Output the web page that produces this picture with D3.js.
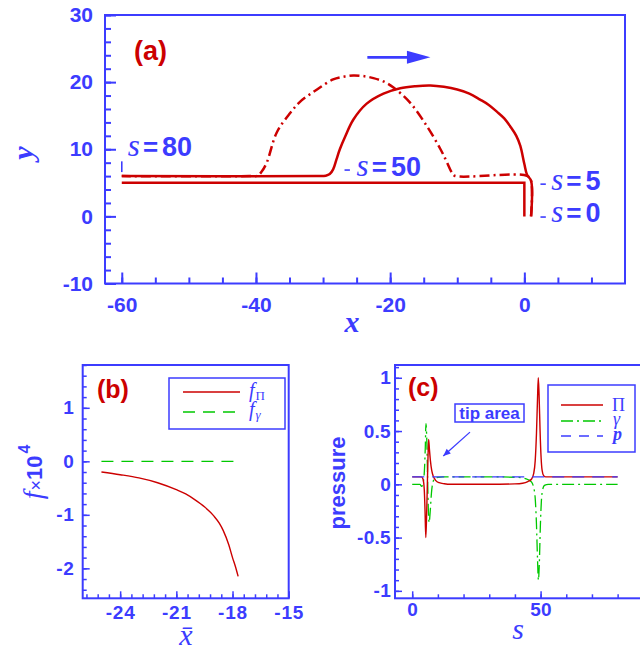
<!DOCTYPE html>
<html><head><meta charset="utf-8">
<script src="https://cdn.jsdelivr.net/npm/d3@7"></script>
<style>
body{margin:0;background:#fff;}
svg{display:block;}
</style></head><body>
<svg id="fig" width="640" height="653"></svg>
<script>
// ---------- Panel (a): film profiles y(x) ----------
const flatX = [0, 0, -60];
const flatY = [0, 5, 5];
const bumpX = [1, 1, 0.4, 0, -0.6, -1.2, -2.1, -3.0, -4.1, -5.3, -6.6, -8.2, -10, -12, -14, -16.2, -18.5, -21, -23.5, -25.5, -26.7, -27.5, -28, -28.5, -29.0, -29.6, -31, -60];
const bumpY = [0, 5.3, 6.2, 7.8, 10.5, 12.0, 13.4, 14.6, 15.6, 16.6, 17.4, 18.3, 18.9, 19.3, 19.5, 19.4, 19.1, 18.3, 16.8, 14.4, 11.9, 10, 8.5, 7.0, 6.3, 6.05, 6, 6];
const earlyX = [1, 1, 0.4, -10.4, -10.8, -11.6, -12.5, -14.5, -17, -19.5, -21, -22.5, -24, -25.5, -27, -28.5, -30.9, -33.4, -34.9, -36.9, -38.4, -39.2, -39.8, -41, -60];
const earlyY = [0, 5.3, 6.05, 6.05, 6.5, 8.2, 10, 13.4, 16.9, 19.2, 20.1, 20.6, 20.9, 21.0, 20.8, 20.4, 18.9, 17.1, 15.4, 12.5, 8.0, 6.6, 6.05, 6, 6];
const aXMajor = [-60, -40, -20, 0];
const aXMinor = [-60, -55, -50, -45, -40, -35, -30, -25, -20, -15, -10, -5, 0, 5, 10];
const aYMajor = [-10, 0, 10, 20, 30];
const aYMinor = [-10, -8, -6, -4, -2, 0, 2, 4, 6, 8, 10, 12, 14, 16, 18, 20, 22, 24, 26, 28, 30];
const sMarks = ["80", "50", "5", "0"];

// ---------- Panel (b): f x 10^4 against x-bar ----------
const fBarX = [-25, -24, -23, -22, -21, -20.5, -20, -19.5, -19, -18.7, -18.5, -18.2, -18.0, -17.85, -17.7];
const fPi = [-0.20, -0.25, -0.31, -0.40, -0.53, -0.61, -0.72, -0.85, -1.02, -1.16, -1.29, -1.56, -1.80, -1.96, -2.15];
const fGammaX = [-25, -17.7];
const fGamma = [0, 0];
const bXMajor = [-24, -21, -18, -15];
const bXMinor = [-25.8, -25.2, -24.6, -24, -23.4, -22.8, -22.2, -21.6, -21, -20.4, -19.8, -19.2, -18.6, -18, -17.4, -16.8, -16.2, -15.6, -15];
const bYMajor = [-2, -1, 0, 1];
const bYMinor = [-2.4, -2.2, -2, -1.8, -1.6, -1.4, -1.2, -1, -0.8, -0.6, -0.4, -0.2, 0, 0.2, 0.4, 0.6, 0.8, 1, 1.2, 1.4, 1.6, 1.8];

// ---------- Panel (c): pressure components along s ----------
const sPi = [0, 3.6, 4.2, 4.7, 5.0, 5.3, 5.6, 5.9, 6.2, 6.4, 6.7, 7.1, 7.6, 8.3, 9.2, 10.5, 12.5, 15, 20, 30, 40, 43, 45, 46.5, 47.3, 47.9, 48.4, 48.8, 49.1, 49.4, 49.8, 50.2, 50.6, 51.2, 52, 60, 70, 80];
const piVal = [0.07, 0.07, 0.05, -0.05, -0.25, -0.50, -0.30, 0.0, 0.30, 0.42, 0.33, 0.22, 0.13, 0.07, 0.035, 0.015, 0.005, 0.0, 0.0, 0.0, 0.004, 0.01, 0.025, 0.05, 0.1, 0.22, 0.48, 0.8, 1.0, 0.85, 0.5, 0.25, 0.13, 0.08, 0.07, 0.07, 0.07, 0.07];
const sGamma = [0, 3.0, 3.7, 4.3, 4.8, 5.1, 5.35, 5.7, 6.0, 6.3, 6.6, 7.0, 7.5, 8.2, 9.0, 10, 12, 20, 30, 40, 43, 45, 46.5, 47.3, 47.9, 48.4, 48.8, 49.15, 49.5, 49.9, 50.3, 50.8, 51.5, 53, 60, 70, 80];
const gammaVal = [0.0, 0.0, -0.02, 0.02, 0.15, 0.35, 0.57, 0.40, 0.05, -0.25, -0.36, -0.26, -0.08, 0.03, 0.06, 0.065, 0.07, 0.07, 0.07, 0.066, 0.06, 0.045, 0.02, -0.03, -0.13, -0.38, -0.7, -0.9, -0.75, -0.4, -0.16, -0.05, -0.01, 0.0, 0.0, 0.0, 0.0];
const sP = [0, 80];
const pVal = [0.07, 0.07];
const cXMajor = [0, 50];
const cXMinor = [0, 10, 20, 30, 40, 50, 60, 70, 80, 90];
const cYMajor = [-1, -0.5, 0, 0.5, 1];
const cYMinor = [-1, -0.9, -0.8, -0.7, -0.6, -0.5, -0.4, -0.3, -0.2, -0.1, 0, 0.1, 0.2, 0.3, 0.4, 0.5, 0.6, 0.7, 0.8, 0.9, 1, 1.1];

const BLUE = "#3c3cff", RED = "#cc0000", GREEN = "#00c800";
const SANS = "'Liberation Sans', Arial, Helvetica, sans-serif";
const SERIF = "'Liberation Serif', 'Times New Roman', serif";

const svg = d3.select("#fig");

// scales
const ax = d3.scaleLinear().domain([-62.5, 15]).range([105, 625]);
const ay = d3.scaleLinear().domain([-10, 30]).range([283.5, 15]);
const bx = d3.scaleLinear().domain([-26, -15]).range([82.7, 288.7]);
const by = d3.scaleLinear().domain([-2.56, 1.8]).range([598.3, 365]);
const cx = d3.scaleLinear().domain([-6.7, 90]).range([395, 643.3]);
const cy = d3.scaleLinear().domain([-1.07, 1.12]).range([598.3, 365]);

function fmt(d) { return String(d); }

// frame with inward ticks on the bottom and left sides
function frame(x, y, o) {
  const g = svg.append("g");
  const [x0, x1] = x.range(), [y0, y1] = y.range();
  const bottom = y0, top = y1;
  const addAxis = (axis, transform) => {
    const a = g.append("g").attr("transform", transform).call(axis);
    a.select(".domain").remove();
    a.selectAll(".tick line").attr("stroke", BLUE).attr("stroke-width", o.tickW);
    a.selectAll(".tick text").attr("fill", BLUE).attr("font-family", SANS)
      .attr("font-weight", "bold").attr("font-size", o.font).attr("letter-spacing", o.ls || 0);
    return a;
  };
  addAxis(d3.axisBottom(x).tickValues(o.xMinor).tickSize(-o.minor).tickFormat(""), `translate(0,${bottom})`);
  addAxis(d3.axisBottom(x).tickValues(o.xMajor).tickSize(-o.major).tickPadding(o.xPad).tickFormat(fmt), `translate(0,${bottom})`);
  addAxis(d3.axisLeft(y).tickValues(o.yMinor).tickSize(-o.minor).tickFormat(""), `translate(${x0},0)`);
  addAxis(d3.axisLeft(y).tickValues(o.yMajor).tickSize(-o.major).tickPadding(o.yPad).tickFormat(fmt), `translate(${x0},0)`);
  g.append("rect").attr("x", x0).attr("y", top).attr("width", x1 - x0).attr("height", bottom - top)
    .attr("fill", "none").attr("stroke", BLUE).attr("stroke-width", 2);
  return g;
}

function path(xs, ys, sx, sy, curve) {
  return d3.line().x((d, i) => sx(xs[i])).y((d, i) => sy(ys[i])).curve(curve)(xs);
}

// ================= Panel (a) =================
frame(ax, ay, { xMajor: aXMajor, xMinor: aXMinor, yMajor: aYMajor, yMinor: aYMinor,
  major: 11, minor: 6, tickW: 2, font: 21, xPad: 14, yPad: 12 });

const smooth = d3.curveCatmullRom.alpha(0.5);
svg.append("path").attr("d", path(flatX, flatY, ax, ay, d3.curveLinear))
  .attr("fill", "none").attr("stroke", RED).attr("stroke-width", 2.5);
svg.append("path").attr("d", path(bumpX, bumpY, ax, ay, smooth))
  .attr("fill", "none").attr("stroke", RED).attr("stroke-width", 2.5);
svg.append("path").attr("d", path(earlyX, earlyY, ax, ay, smooth))
  .attr("fill", "none").attr("stroke", RED).attr("stroke-width", 2.5)
  .attr("stroke-dasharray", "10,4,2,4");

// travel direction arrow
svg.append("line").attr("x1", ax(-23.4)).attr("x2", ax(-17)).attr("y1", ay(23.7)).attr("y2", ay(23.7))
  .attr("stroke", BLUE).attr("stroke-width", 2.8);
svg.append("path")
  .attr("d", `M${ax(-14)},${ay(23.7)} L${ax(-17.5)},${ay(23.7) - 6.5} L${ax(-17.5)},${ay(23.7) + 6.5} Z`)
  .attr("fill", BLUE);

// arc-length markers
function sLabel(x, y, v) {
  const t = svg.append("text").attr("x", ax(x)).attr("y", ay(y)).attr("fill", BLUE);
  t.append("tspan").attr("font-family", SERIF).attr("font-style", "italic").attr("font-size", 31).text("s");
  t.append("tspan").attr("font-family", SANS).attr("font-weight", "bold").attr("font-size", 26).attr("dx", 3).text("=");
  t.append("tspan").attr("font-family", SANS).attr("font-weight", "bold").attr("font-size", 27).attr("dx", 4).text(v);
}
sLabel(-59.1, 9.0, sMarks[0]);
sLabel(-25.0, 6.0, sMarks[1]);
sLabel(4.0, 3.9, sMarks[2]);
sLabel(4.0, -0.85, sMarks[3]);
const tickMark = (x1, y1, x2, y2) => svg.append("line")
  .attr("x1", ax(x1)).attr("y1", ay(y1)).attr("x2", ax(x2)).attr("y2", ay(y2))
  .attr("stroke", BLUE).attr("stroke-width", 1.6);
tickMark(-60, 6.6, -60, 8.2);
tickMark(-26.8, 6.9, -26.0, 6.9);
tickMark(2.4, 4.8, 3.2, 4.8);
tickMark(2.4, -0.1, 3.2, -0.1);

svg.append("text").attr("x", 134).attr("y", 60).attr("fill", RED).attr("font-family", SANS)
  .attr("font-weight", "bold").attr("font-size", 27).text("(a)");
svg.append("text").attr("x", 352).attr("y", 332).attr("text-anchor", "middle").attr("fill", BLUE)
  .attr("font-family", SERIF).attr("font-style", "italic").attr("font-weight", "bold").attr("font-size", 30).text("x");
svg.append("text").attr("transform", "translate(33,153) rotate(-90)").attr("text-anchor", "middle").attr("fill", BLUE)
  .attr("font-family", SERIF).attr("font-style", "italic").attr("font-weight", "bold").attr("font-size", 30).text("y");

// ================= Panel (b) =================
frame(bx, by, { xMajor: bXMajor, xMinor: bXMinor, yMajor: bYMajor, yMinor: bYMinor,
  major: 7, minor: 4, tickW: 1.5, font: 19, ls: 0.8, xPad: 7, yPad: 8 });
svg.append("path").attr("d", path(fGammaX, fGamma, bx, by, d3.curveLinear))
  .attr("fill", "none").attr("stroke", GREEN).attr("stroke-width", 1.3).attr("stroke-dasharray", "12,8");
svg.append("path").attr("d", path(fBarX, fPi, bx, by, d3.curveMonotoneX))
  .attr("fill", "none").attr("stroke", RED).attr("stroke-width", 1.4);

svg.append("text").attr("x", 97).attr("y", 398).attr("fill", RED).attr("font-family", SANS)
  .attr("font-weight", "bold").attr("font-size", 25).text("(b)");

// legend (b)
svg.append("rect").attr("x", 169).attr("y", 378).attr("width", 116).attr("height", 51)
  .attr("fill", "#fff").attr("stroke", BLUE).attr("stroke-width", 1.5);
svg.append("line").attr("x1", 183).attr("x2", 240).attr("y1", 392).attr("y2", 392).attr("stroke", RED).attr("stroke-width", 1.4);
svg.append("line").attr("x1", 183).attr("x2", 240).attr("y1", 412).attr("y2", 412).attr("stroke", GREEN)
  .attr("stroke-width", 1.3).attr("stroke-dasharray", "12,8");
function subLabel(x, y, sub, subItalic) {
  const t = svg.append("text").attr("x", x).attr("y", y).attr("fill", BLUE).attr("font-family", SERIF);
  t.append("tspan").attr("font-style", "italic").attr("font-size", 20).text("f");
  t.append("tspan").attr("font-size", 13).attr("dx", 1).attr("dy", 3).attr("font-style", subItalic ? "italic" : "normal").text(sub);
}
subLabel(249, 397, "Π", false);
subLabel(249, 416, "γ", true);

// axis titles (b)
svg.append("text").attr("x", 186).attr("y", 645).attr("text-anchor", "middle").attr("fill", BLUE)
  .attr("font-family", SERIF).attr("font-style", "italic").attr("font-size", 30).text("x\u0304");
{
  const t = svg.append("text").attr("transform", "translate(42,472) rotate(-90)").attr("text-anchor", "middle")
    .attr("fill", BLUE);
  t.append("tspan").attr("font-family", SERIF).attr("font-style", "italic").attr("font-size", 28).text("f");
  t.append("tspan").attr("font-family", SANS).attr("font-size", 18).attr("dx", 1).text("×");
  t.append("tspan").attr("font-family", SANS).attr("font-weight", "bold").attr("font-size", 22).text("10");
  t.append("tspan").attr("font-family", SANS).attr("font-weight", "bold").attr("font-size", 16).attr("dy", -12).attr("dx", 2).text("4");
}

// ================= Panel (c) =================
frame(cx, cy, { xMajor: cXMajor, xMinor: cXMinor, yMajor: cYMajor, yMinor: cYMinor,
  major: 7, minor: 4, tickW: 1.5, font: 19, ls: 0.3, xPad: 4.5, yPad: 4 });
svg.append("path").attr("d", path(sGamma, gammaVal, cx, cy, d3.curveMonotoneX))
  .attr("fill", "none").attr("stroke", GREEN).attr("stroke-width", 1.3).attr("stroke-dasharray", "12,4,2,4");
svg.append("path").attr("d", path(sPi, piVal, cx, cy, d3.curveMonotoneX))
  .attr("fill", "none").attr("stroke", RED).attr("stroke-width", 1.4);
svg.append("path").attr("d", path(sP, pVal, cx, cy, d3.curveLinear))
  .attr("fill", "none").attr("stroke", BLUE).attr("stroke-width", 1.3).attr("stroke-dasharray", "12,8");

svg.append("text").attr("x", 408).attr("y", 396).attr("fill", RED).attr("font-family", SANS)
  .attr("font-weight", "bold").attr("font-size", 25).text("(c)");

// tip area note and pointer
svg.append("rect").attr("x", 455).attr("y", 404).attr("width", 69).attr("height", 18)
  .attr("fill", "#fff").attr("stroke", BLUE).attr("stroke-width", 1.5);
svg.append("text").attr("x", 489.5).attr("y", 418.5).attr("text-anchor", "middle").attr("fill", BLUE)
  .attr("font-family", SANS).attr("font-weight", "bold").attr("font-size", 17).text("tip area");
{
  const x1 = cx(22.5), y1 = cy(0.49), x2 = cx(12.1), y2 = cy(0.265);
  const ang = Math.atan2(y2 - y1, x2 - x1);
  svg.append("line").attr("x1", x1).attr("y1", y1).attr("x2", x2).attr("y2", y2).attr("stroke", BLUE).attr("stroke-width", 1.3);
  const L = 8, W = 0.4;
  svg.append("path").attr("d", `M${x2},${y2} L${x2 - L * Math.cos(ang - W)},${y2 - L * Math.sin(ang - W)} L${x2 - L * Math.cos(ang + W)},${y2 - L * Math.sin(ang + W)} Z`)
    .attr("fill", BLUE);
}

// legend (c)
svg.append("rect").attr("x", 548).attr("y", 385).attr("width", 87).attr("height", 67)
  .attr("fill", "#fff").attr("stroke", BLUE).attr("stroke-width", 1.5);
svg.append("line").attr("x1", 561).attr("x2", 603).attr("y1", 405).attr("y2", 405).attr("stroke", RED).attr("stroke-width", 1.4);
svg.append("line").attr("x1", 561).attr("x2", 603).attr("y1", 421).attr("y2", 421).attr("stroke", GREEN)
  .attr("stroke-width", 1.3).attr("stroke-dasharray", "12,4,2,4");
svg.append("line").attr("x1", 561).attr("x2", 603).attr("y1", 436).attr("y2", 436).attr("stroke", BLUE)
  .attr("stroke-width", 1.3).attr("stroke-dasharray", "10,8");
svg.append("text").attr("x", 612).attr("y", 411).attr("fill", BLUE).attr("font-family", SERIF).attr("font-size", 18).text("Π");
svg.append("text").attr("x", 613).attr("y", 425).attr("fill", BLUE).attr("font-family", SERIF).attr("font-style", "italic").attr("font-size", 18).text("γ");
svg.append("text").attr("x", 613).attr("y", 440).attr("fill", BLUE).attr("font-family", SERIF).attr("font-style", "italic").attr("font-weight", "bold").attr("font-size", 18).text("p");

// axis titles (c)
svg.append("text").attr("x", 518).attr("y", 639).attr("text-anchor", "middle").attr("fill", BLUE)
  .attr("font-family", SERIF).attr("font-style", "italic").attr("font-size", 30).text("s");
svg.append("text").attr("transform", "translate(345,483) rotate(-90)").attr("text-anchor", "middle").attr("fill", BLUE)
  .attr("font-family", SANS).attr("font-weight", "bold").attr("font-size", 22).text("pressure");
</script>
</body></html>
